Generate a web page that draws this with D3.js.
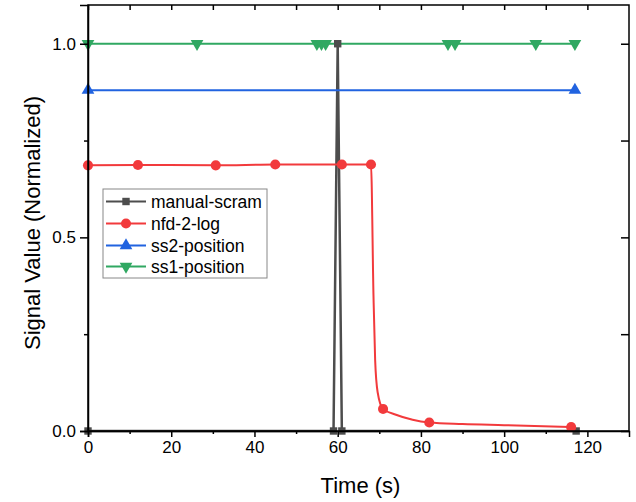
<!DOCTYPE html>
<html>
<head>
<meta charset="utf-8">
<script src="https://cdn.jsdelivr.net/npm/d3@7"></script>
<style>
  html, body { margin: 0; padding: 0; background: #fff; overflow: hidden; }
  svg { display: block; font-family: 'Liberation Sans', Arial, sans-serif; }
</style>
</head>
<body>
<svg id="chart" width="636" height="502" viewBox="0 0 636 502"></svg>
<script>
// series data: [time, value, hasMarker]
const scramPoints = [[0, 0, 1], [59, 0, 1], [60, 1, 1], [61, 0, 1], [117.3, 0, 1]]
const nfdPoints = [
  [0, 0.686, 1], [12, 0.687, 1], [30.7, 0.686, 1], [45, 0.688, 1], [61, 0.688, 1], [68, 0.688, 1],
  [68.6, 0.35, 0], [69, 0.183, 0], [69.6, 0.10, 0], [70.9, 0.057, 1], [74, 0.042, 0], [78, 0.029, 0],
  [82, 0.022, 1], [90, 0.018, 0], [100, 0.015, 0], [116.1, 0.010, 1]
]
const ss2Points = [[0, 0.88, 1], [117, 0.88, 1]]
const ss1Points = [
  [0, 1, 1], [26.2, 1, 1], [55, 1, 1], [56.1, 1, 1], [57.1, 1, 1], [86.5, 1, 1],
  [88.2, 1, 1], [107.6, 1, 1], [117, 1, 1]
]

const seriesNames = ['manual-scram', 'nfd-2-log', 'ss2-position', 'ss1-position']
const seriesColors = ['#4d4d4d', '#f23a3c', '#2163e0', '#30a862']
const seriesSymbols = [d3.symbolSquare, d3.symbolCircle, d3.symbolTriangle, 'down']
const seriesData = [scramPoints, nfdPoints, ss2Points, ss1Points]

const xTicks = [0, 20, 40, 60, 80, 100, 120]
const xMinor = [10, 30, 50, 70, 90, 110]
const yTicks = [0, 0.5, 1.0]
const yMinor = [0.25, 0.75]

const margin = { top: 5, right: 7, bottom: 71, left: 88 }
const width = 636
const height = 502
const innerWidth = width - margin.left - margin.right
const innerHeight = height - margin.top - margin.bottom

const svg = d3.select('#chart')
const g = svg.append('g').attr('transform', `translate(${margin.left},${margin.top})`)

const xScale = d3.scaleLinear().domain([0, 130]).range([0, innerWidth])
const yScale = d3.scaleLinear().domain([0, 1.1]).range([innerHeight, 0])

// marker shapes
const markerPath = (sym) => {
  if (sym === 'down') return d3.symbol().type(d3.symbolTriangle).size(70)()
  if (sym === d3.symbolCircle) return d3.symbol().type(sym).size(80)()
  if (sym === d3.symbolSquare) return d3.symbol().type(sym).size(55)()
  return d3.symbol().type(sym).size(70)()
}
const markerRotate = (sym) => sym === 'down' ? ' rotate(180)' : ''

// lines
seriesData.forEach((pts, i) => {
  const line = d3.line()
    .x(d => xScale(d[0]))
    .y(d => yScale(d[1]))
    .curve(i === 1 ? d3.curveMonotoneX : d3.curveLinear)
  g.append('path')
    .datum(pts)
    .attr('fill', 'none')
    .attr('stroke', seriesColors[i])
    .attr('stroke-width', i === 0 ? 2.5 : 2)
    .attr('d', line)
})

// markers
seriesData.forEach((pts, i) => {
  g.selectAll(`path.marker${i}`)
    .data(pts.filter(d => d[2]))
    .enter().append('path')
    .attr('class', `marker${i}`)
    .attr('d', markerPath(seriesSymbols[i]))
    .attr('fill', seriesColors[i])
    .attr('transform', d => `translate(${xScale(d[0])},${yScale(d[1])})${markerRotate(seriesSymbols[i])}`)
})

// tick-only axis (no labels, no domain line)
const tickOnly = (sel, axis) => {
  sel.call(axis.tickFormat(''))
  sel.select('.domain').remove()
  sel.selectAll('.tick text').remove()
}

// axes
const xAxisG = g.append('g')
  .attr('transform', `translate(0, ${innerHeight})`)
  .call(d3.axisBottom(xScale).tickValues(xTicks).tickSize(6).tickPadding(4).tickFormat(d3.format('d')))
  .attr('font-size', 17)
  .attr('font-family', "'Liberation Sans', Arial, sans-serif")
tickOnly(xAxisG.append('g'), d3.axisBottom(xScale).tickValues(xMinor).tickSize(3))

const yAxisG = g.append('g')
  .call(d3.axisLeft(yScale).tickValues(yTicks).tickSize(8).tickPadding(4).tickFormat(d3.format('.1f')))
  .attr('font-size', 17)
  .attr('font-family', "'Liberation Sans', Arial, sans-serif")
tickOnly(yAxisG.append('g'), d3.axisLeft(yScale).tickValues(yMinor).tickSize(4))

// mirrored top and right axes, ticks pointing in
tickOnly(g.append('g'), d3.axisBottom(xScale).tickValues(xTicks.concat(xMinor)).tickSize(5))
tickOnly(g.append('g').attr('transform', `translate(${innerWidth}, 0)`),
  d3.axisRight(yScale).tickValues(yTicks.concat(yMinor)).tickSize(-8))

g.append('rect')
  .attr('width', innerWidth)
  .attr('height', innerHeight)
  .attr('fill', 'none')
  .attr('stroke', '#000')
  .attr('stroke-width', 1.5)

g.selectAll('.tick line').attr('stroke', '#000').attr('stroke-width', 1.5)
g.selectAll('.domain').attr('stroke', '#000').attr('stroke-width', 1.5)
g.selectAll('.tick text').attr('fill', '#000')

// axis labels
g.append('text')
  .attr('x', innerWidth / 2 + 2)
  .attr('y', innerHeight + 62)
  .attr('text-anchor', 'middle')
  .attr('font-size', 22)
  .text('Time (s)')
g.append('text')
  .attr('transform', 'rotate(-90)')
  .attr('x', -(223 - margin.top))
  .attr('y', -48)
  .attr('text-anchor', 'middle')
  .attr('font-size', 22)
  .text('Signal Value (Normalized)')

// legend
const legend = g.append('g').attr('transform', `translate(${103 - margin.left}, ${189 - margin.top})`)
legend.append('rect')
  .attr('width', 164)
  .attr('height', 89)
  .attr('fill', '#fff')
  .attr('stroke', '#888')
  .attr('stroke-width', 1)
const rowY = [12.5, 34.5, 56.5, 77.5]
seriesNames.forEach((name, i) => {
  const row = legend.append('g').attr('transform', `translate(0, ${rowY[i]})`)
  row.append('line')
    .attr('x1', 3).attr('x2', 43)
    .attr('stroke', seriesColors[i])
    .attr('stroke-width', 2)
  row.append('path')
    .attr('d', markerPath(seriesSymbols[i]))
    .attr('fill', seriesColors[i])
    .attr('transform', `translate(23, 0)${markerRotate(seriesSymbols[i])}`)
  row.append('text')
    .attr('x', 48)
    .attr('dy', '0.35em')
    .attr('font-size', 17.5)
    .text(name)
})
</script>
</body>
</html>
